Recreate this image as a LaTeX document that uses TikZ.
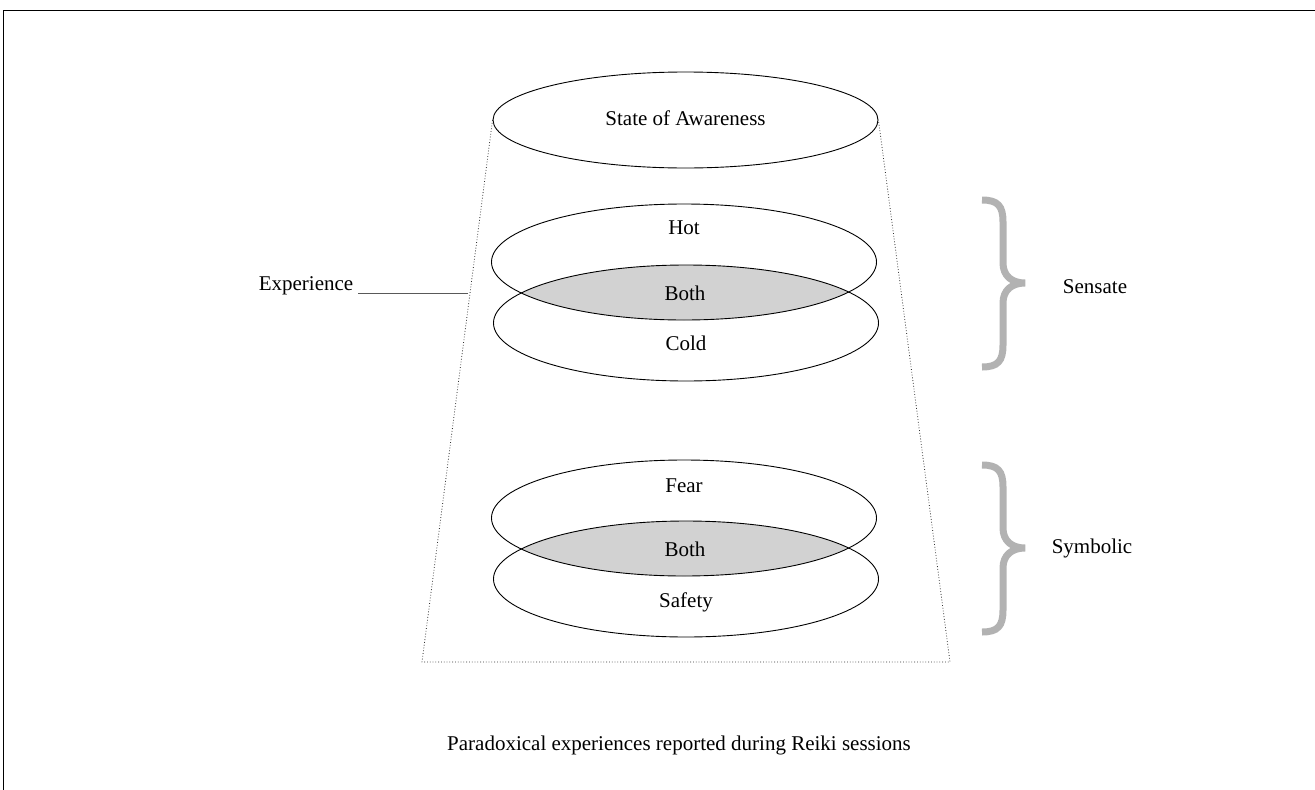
\documentclass[tikz,border=0pt]{standalone}
\usepackage{fontspec}
\setmainfont{Liberation Serif}
\usetikzlibrary{shapes.geometric}
\begin{document}
\begin{tikzpicture}[x=1pt,y=-1pt,
  ring/.style={ellipse, draw=black, line width=0.9pt, inner sep=0pt, minimum width=385pt, minimum height=116pt},
  lbl/.style={font=\fontsize{21}{25}\selectfont, inner sep=0pt},
  cup/.style={draw=black!80, dotted, line width=0.8pt},
  bracestroke/.style={draw=gray!60, line width=7pt},
  frameline/.style={draw=black, line width=1pt},
  bothfill/.style={fill=gray!35}]
\useasboundingbox (0,0) rectangle (1315,790);

% frame
\draw[frameline] (3,790) -- (3,10) -- (1315,10);

% shaded overlaps
\begin{scope}
  \clip (684,262) ellipse [x radius=192.5pt, y radius=58pt];
  \fill[bothfill] (686,323) ellipse [x radius=192.5pt, y radius=58pt];
\end{scope}
\begin{scope}
  \clip (684,518) ellipse [x radius=192.5pt, y radius=58pt];
  \fill[bothfill] (686,579) ellipse [x radius=192.5pt, y radius=58pt];
\end{scope}

% top ellipse and cup
\node[ring, minimum height=96pt] (aware) at (685.5,120) {};
\node[lbl] (awarel) at (685.5,118) {State of Awareness};
\coordinate (bl) at (422,662);
\coordinate (br) at (950,662);
\draw[cup] (aware.west) -- (bl) -- (br) -- (aware.east);

% sensate rings
\node[ring] (hot) at (684,262) {};
\node[ring] (cold) at (686,323) {};
\node[lbl] (hotl) at (684,228) {Hot};
\node[lbl] (both1) at (685,293) {Both};
\node[lbl] (coldl) at (686,343) {Cold};

% symbolic rings
\node[ring] (fear) at (684,518) {};
\node[ring] (safety) at (686,579) {};
\node[lbl] (fearl) at (684,486) {Fear};
\node[lbl] (both2) at (685,549) {Both};
\node[lbl] (safetyl) at (686,602) {Safety};

% experience
\node[lbl, anchor=base] (exp) at (306,290) {Experience};
\coordinate (expstart) at ([xshift=5pt,yshift=-3pt]exp.base east);
\coordinate (expend) at (468,293);
\draw[gray!70!black, line width=1pt] (expstart) -- (expend);

% braces
\draw[bracestroke] (982,200) .. controls (998,200) and (1003,206) .. (1003,222) -- (1003,263)
  .. controls (1003,276) and (1012,283) .. (1025,283)
  .. controls (1012,283) and (1003,290) .. (1003,303) -- (1003,345)
  .. controls (1003,361) and (998,367) .. (982,367);
\node[lbl] (sensate) at (1095,287) {Sensate};

\draw[bracestroke] (982,465) .. controls (998,465) and (1003,471) .. (1003,487) -- (1003,528)
  .. controls (1003,541) and (1012,548) .. (1025,548)
  .. controls (1012,548) and (1003,555) .. (1003,568) -- (1003,610)
  .. controls (1003,626) and (998,632) .. (982,632);
\node[lbl] (symbolic) at (1092,548) {Symbolic};

% caption
\node[lbl] (caption) at (679,745) {Paradoxical experiences reported during Reiki sessions};
\end{tikzpicture}
\end{document}
